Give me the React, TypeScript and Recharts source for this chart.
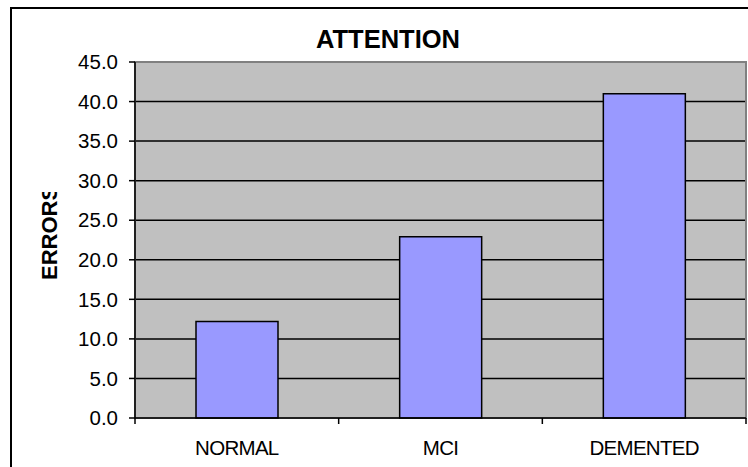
import { BarChart, Bar, XAxis, YAxis, CartesianGrid, ReferenceArea } from 'recharts'

const categories = ['NORMAL', 'MCI', 'DEMENTED']
const errors = [12.2, 22.9, 41.0]
const yTicks = [0, 5, 10, 15, 20, 25, 30, 35, 40, 45]

const data = categories.map((name, i) => ({ name, errors: errors[i] }))

const FONT = '"Liberation Sans", Arial, sans-serif'
const W = 748
const H = 467
const LEFT = 135
const RIGHT = 2
const BAND = (W - LEFT - RIGHT) / categories.length

if (typeof document !== 'undefined') document.body.style.margin = '0'

function CategoryTick(props: any) {
  const { x, y, payload, index } = props
  const half = payload?.offset || BAND / 2
  return (
    <g>
      <line x1={x - half} x2={x - half} y1={y} y2={y + 6} stroke="#000" strokeWidth={1.5} />
      {index === categories.length - 1 && (
        <line x1={x + half} x2={x + half} y1={y} y2={y + 6} stroke="#000" strokeWidth={1.5} />
      )}
      <text x={x} y={y + 22} dy="0.71em" textAnchor="middle" fontSize={20.5} fontFamily={FONT} fill="#000" letterSpacing={-0.7}>
        {payload.value}
      </text>
    </g>
  )
}

function ErrorsLabel() {
  return (
    <g>
      <defs>
        <clipPath id="errors-clip">
          <rect x={0} y={192} width={120} height={200} />
        </clipPath>
      </defs>
      <g clipPath="url(#errors-clip)">
        <text
          x={57}
          y={280}
          transform="rotate(-90 57 280)"
          fontSize={22}
          fontWeight="bold"
          fontFamily={FONT}
          fill="#000"
        >
          ERRORS
        </text>
      </g>
    </g>
  )
}

export default function App() {
  return (
    <div style={{ position: 'relative', width: W, height: H, overflow: 'hidden', background: '#fff' }}>
      <div
        style={{
          position: 'absolute',
          left: 10,
          top: 7,
          width: W + 40,
          height: H + 40,
          borderLeft: '2px solid #000',
          borderTop: '2px solid #000',
        }}
      />
      <div
        style={{
          position: 'absolute',
          left: 0,
          top: 26,
          width: 776,
          textAlign: 'center',
          fontFamily: FONT,
          fontWeight: 'bold',
          fontSize: 25.5,
          lineHeight: '26px',
        }}
      >
        ATTENTION
      </div>
      <div style={{ position: 'absolute', left: 0, top: 0 }}>
        <BarChart width={W} height={H} data={data} margin={{ top: 62, right: RIGHT, bottom: 0, left: 0 }}>
          <CartesianGrid vertical={false} stroke="#000" strokeWidth={1.5} fill="#C0C0C0" fillOpacity={1} />
          <ReferenceArea y1={0} y2={45} fill="none" stroke="#808080" strokeWidth={2} />
          <Bar dataKey="errors" fill="#9999FF" stroke="#000" strokeWidth={1.5} barSize={82} isAnimationActive={false} />
          <XAxis
            dataKey="name"
            height={49}
            tickLine={false}
            tickSize={0}
            tickMargin={0}
            axisLine={{ stroke: '#000', strokeWidth: 1.5 }}
            tick={<CategoryTick />}
            interval={0}
          />
          <YAxis
            width={LEFT}
            domain={[0, 45]}
            ticks={yTicks}
            interval={0}
            tickFormatter={(v: number) => v.toFixed(1)}
            tickSize={6}
            tickMargin={11}
            axisLine={{ stroke: '#000', strokeWidth: 1.5 }}
            tickLine={{ stroke: '#000', strokeWidth: 1.5 }}
            tick={{ fontSize: 20.5, fontFamily: FONT, fill: '#000' }}
            label={{ content: () => <ErrorsLabel /> }}
          />
        </BarChart>
      </div>
    </div>
  )
}
